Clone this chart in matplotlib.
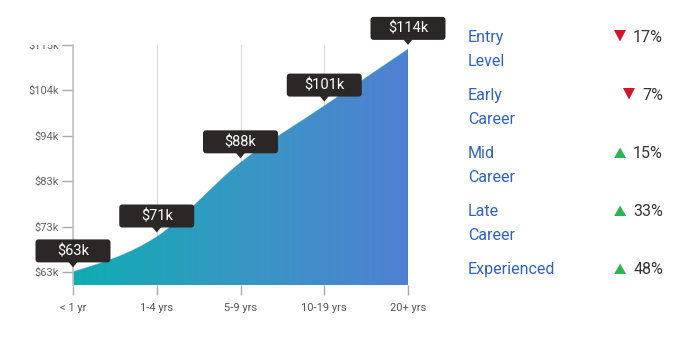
import numpy as np
import matplotlib
matplotlib.use("Agg")
import matplotlib.pyplot as plt
from matplotlib.path import Path
from matplotlib.patches import PathPatch, FancyBboxPatch, Polygon
from matplotlib.colors import LinearSegmentedColormap
from matplotlib.transforms import Affine2D, ScaledTranslation, Bbox

plt.rcParams['font.family'] = ['Roboto', 'DejaVu Sans']

# ---- data ----
categories = ["< 1 yr", "1-4 yrs", "5-9 yrs", "10-19 yrs", "20+ yrs"]
salaries = [63, 71, 88, 101, 114]          # $k
ytick_values = [63, 73.4, 83.8, 94.2, 104.6, 115]
ytick_labels = ["$63k", "$73k", "$83k", "$94k", "$104k", "$115k"]
levels = [["Entry", "Level"], ["Early", "Career"], ["Mid", "Career"],
          ["Late", "Career"], ["Experienced"]]
changes = [-17, -7, 15, 33, 48]             # percent

W, H = 685, 354
fig = plt.figure(figsize=(W / 100, H / 100), dpi=100)
ax = fig.add_axes([73 / W, 69 / H, (408 - 73) / W, 240 / H])
xs = np.arange(len(categories), dtype=float)
ys = np.array(salaries, dtype=float)
ax.set_xlim(0, len(categories) - 1)
ax.set_ylim(60, 115)

# ---- monotone cubic (d3 curveMonotoneX) bezier path ----
n = len(xs)
h = np.diff(xs)
s = np.diff(ys) / h
t = np.zeros(n)
for i in range(1, n - 1):
    s0, s1 = s[i - 1], s[i]
    p = (s0 * h[i] + s1 * h[i - 1]) / (h[i - 1] + h[i])
    t[i] = (np.sign(s0) + np.sign(s1)) * min(abs(s0), abs(s1), 0.5 * abs(p))
t[0] = (3 * s[0] - t[1]) / 2
t[-1] = (3 * s[-1] - t[-2]) / 2

verts = [(xs[0], ys[0])]
codes = [Path.MOVETO]
for i in range(n - 1):
    dx = h[i] / 3
    verts += [(xs[i] + dx, ys[i] + dx * t[i]),
              (xs[i + 1] - dx, ys[i + 1] - dx * t[i + 1]),
              (xs[i + 1], ys[i + 1])]
    codes += [Path.CURVE4] * 3
line_verts, line_codes = list(verts), list(codes)
verts += [(xs[-1], 60), (xs[0], 60), (xs[0], ys[0])]
codes += [Path.LINETO, Path.LINETO, Path.CLOSEPOLY]
area_path = Path(verts, codes)

# gridlines
for x in xs:
    ax.axvline(x, color="#dedede", lw=0.9, zorder=0)

cmap = LinearSegmentedColormap.from_list("g", ["#0eadb1", "#3797c4", "#5080d2"])
grad = np.linspace(0, 1, 256).reshape(1, -1)
im = ax.imshow(grad, cmap=cmap, extent=(0, len(categories) - 1, 60, 115),
               aspect="auto", zorder=1, interpolation="bilinear")
clip = PathPatch(area_path, facecolor="none", edgecolor="none", transform=ax.transData)
ax.add_patch(clip)
im.set_clip_path(clip)
ax.add_patch(PathPatch(Path(line_verts, line_codes), facecolor="none",
                       edgecolor="#2a8fc0", lw=0.8, alpha=0.6, zorder=2))
ax.plot([xs[-1], xs[-1]], [60, ys[-1]], color="#3f74d0", lw=1.0, zorder=2)

# axes styling
for sp in ["top", "right", "bottom"]:
    ax.spines[sp].set_visible(False)
ax.spines["left"].set_color("#c4c4c4")
ax.spines["left"].set_linewidth(1.2)
ax.set_xticks(xs)
ax.set_xticklabels(categories, fontsize=8, color="#555555")
ax.tick_params(axis="x", length=7, width=1, color="#aaaaaa", pad=6)
ax.set_yticks(ytick_values)
ax.set_yticklabels(ytick_labels, fontsize=8, color="#666666")
ax.tick_params(axis="y", length=8, width=1, color="#aaaaaa", pad=2)

# clip top y label as in reference
fig.canvas.draw()
top_lbl = ax.get_yticklabels()[-1]
top_lbl.set_clip_on(True)
top_lbl.set_clip_box(Bbox.from_extents(0, 0, W, H - 45))

# ---- value callouts ----
bw, bh, off = 75, 23, 21
for x, y in zip(xs, ys):
    tr = Affine2D() + ScaledTranslation(x, y, ax.transData)
    box = FancyBboxPatch((-bw / 2 + 2, off - bh / 2 + 2), bw - 4, bh - 4,
                         boxstyle="round,pad=2,rounding_size=3",
                         facecolor="#2b2727", edgecolor="none",
                         transform=tr, clip_on=False, zorder=5)
    ax.add_patch(box)
    tri = Polygon([(-4.5, off - bh / 2 + 0.5), (4.5, off - bh / 2 + 0.5), (0, off - bh / 2 - 5)],
                  closed=True, facecolor="#2b2727", edgecolor="none",
                  transform=tr, clip_on=False, zorder=5)
    ax.add_patch(tri)
    ax.text(0, off - 0.5, f"${int(y)}k", transform=tr, ha="center", va="center",
            color="white", fontsize=10.5, zorder=6, clip_on=False)

# ---- right panel ----
renderer = fig.canvas.get_renderer()
baselines = [42, 100, 158, 216, 274]
for lab, ch, yb in zip(levels, changes, baselines):
    for k, word in enumerate(lab):
        fig.text(468 / W, 1 - (yb + 24 * k) / H, word, ha="left", va="baseline",
                 fontsize=11.5, color="#2f63c0")
    tx = fig.text(663 / W, 1 - yb / H, f"{abs(ch)}%", ha="right", va="baseline",
                  fontsize=11.5, color="#333333")
    bb = tx.get_window_extent(renderer)
    cx = bb.x0 - 13
    base = H - yb
    if ch < 0:
        pts = [(cx - 6, base + 12), (cx + 6, base + 12), (cx, base + 0.5)]
        col = "#d2172b"
    else:
        pts = [(cx - 6, base), (cx + 6, base), (cx, base + 10.5)]
        col = "#2db552"
    fig.patches.append(Polygon(pts, closed=True, facecolor=col, edgecolor="none",
                               transform=None, figure=fig))

fig.savefig("out.png", dpi=100)
